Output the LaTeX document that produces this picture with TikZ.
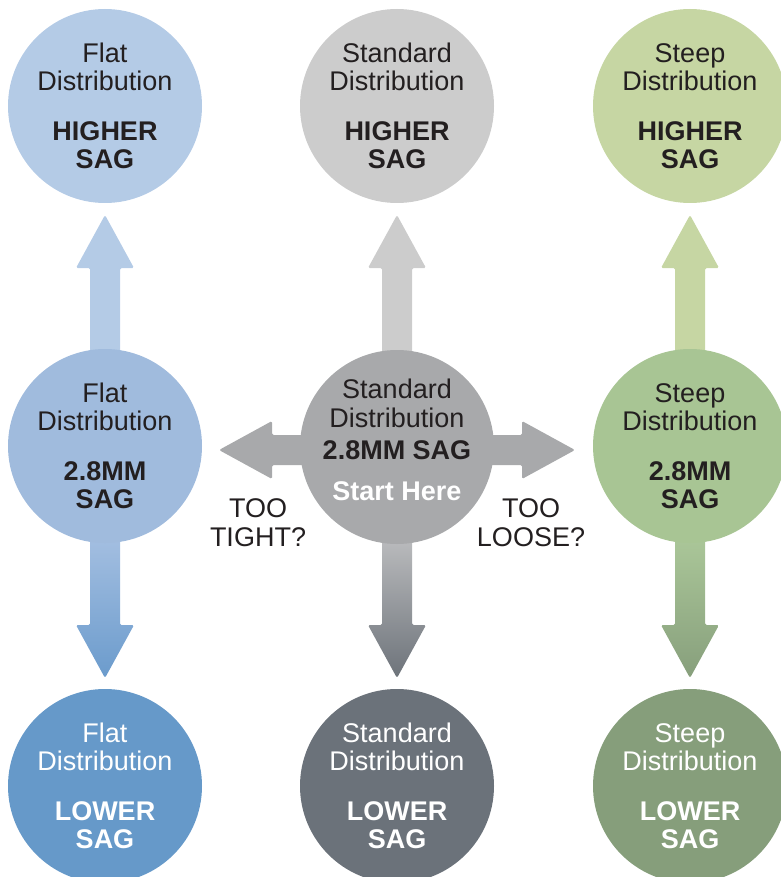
\documentclass[tikz,border=0pt]{standalone}
\usepackage{fontspec}
\setmainfont{Liberation Sans}
\usetikzlibrary{calc,backgrounds}

\definecolor{ink}{HTML}{231F20}
\definecolor{flatHi}{HTML}{B4CBE6}
\definecolor{flatMd}{HTML}{A0BBDD}
\definecolor{flatLo}{HTML}{6699C9}
\definecolor{flatGa}{HTML}{A4BFE1}
\definecolor{flatGb}{HTML}{6B9BCC}
\definecolor{stdHi}{HTML}{CCCCCC}
\definecolor{stdMd}{HTML}{A8A9AB}
\definecolor{stdLo}{HTML}{6B727A}
\definecolor{stdGa}{HTML}{BBBCBE}
\definecolor{stdGb}{HTML}{6D737A}
\definecolor{steepHi}{HTML}{C6D6A3}
\definecolor{steepMd}{HTML}{A8C594}
\definecolor{steepLo}{HTML}{869E7B}
\definecolor{steepGa}{HTML}{ABC799}
\definecolor{steepGb}{HTML}{879F7C}

% fat arrow from #2 to tip #3
\newcommand{\fatarrow}[3][]{%
  \coordinate (hb) at ($(#3)!53pt!(#2)$);
  \path[rounded corners=1.5pt,#1] ($(#2)!15pt!90:(#3)$) -- ($(hb)!15pt!90:(#3)$)
    -- ($(hb)!29pt!90:(#3)$) -- (#3) -- ($(hb)!29pt!-90:(#3)$)
    -- ($(hb)!15pt!-90:(#3)$) -- ($(#2)!15pt!-90:(#3)$) -- cycle;
}

\begin{document}
\begin{tikzpicture}[x=1pt,y=-1pt,
  ball/.style={circle,minimum size=194pt,inner sep=0pt,align=center,
    font=\fontsize{27}{28}\selectfont,text=ink},
  note/.style={align=center,font=\fontsize{27}{29}\selectfont,text=ink}]
\useasboundingbox (0,0) rectangle (780,877);

\foreach \c/\x/\name in {flat/105/Flat,std/397/Standard,steep/690/Steep}{
  \node[ball,fill=\c Hi] (\c top) at (\x,106)
    {\name\\Distribution\\[22pt]\textbf{HIGHER}\\\textbf{SAG}};
  \node[ball,fill=\c Lo,text=white] (\c bot) at (\x,786)
    {\name\\Distribution\\[22pt]\textbf{LOWER}\\\textbf{SAG}};
}
\node[ball,fill=flatMd] (flatmid) at (105,446)
  {Flat\\Distribution\\[22pt]\textbf{2.8MM}\\\textbf{SAG}};
\node[ball,fill=steepMd] (steepmid) at (690,446)
  {Steep\\Distribution\\[22pt]\textbf{2.8MM}\\\textbf{SAG}};
\node[ball,fill=stdMd,label={[note,yshift=7pt]center:{Standard\\Distribution\\[3pt]
  \textbf{2.8MM SAG}\\[12pt]\textcolor{white}{\textbf{Start Here}}}}] (stdmid) at (397,447) {};

\node[note] (tightlbl) at (258,523) {TOO\\TIGHT?};
\node[note] (looselbl) at (531,523) {TOO\\LOOSE?};

\begin{scope}[on background layer]
  \foreach \c in {flat,std,steep}{
    \coordinate (up) at ($(\c top.center)!109pt!(\c mid.center)$);
    \coordinate (dn) at ($(\c bot.center)!108pt!(\c mid.center)$);
    \coordinate (s1) at ($(\c mid.center)!90pt!(up)$);
    \coordinate (s2) at ($(\c mid.center)!90pt!(dn)$);
    \fatarrow[fill=\c Hi]{s1}{up}
    \fatarrow[top color=\c Ga,bottom color=\c Gb]{s2}{dn}
  }
  \coordinate (hub) at ($(stdmid.center)+(0,3)$);
  \coordinate (tight) at ($(stdmid.center)+(-178,3)$);
  \coordinate (loose) at ($(stdmid.center)+(178,3)$);
  \fatarrow[fill=stdMd]{hub}{tight}
  \fatarrow[fill=stdMd]{hub}{loose}
\end{scope}
\end{tikzpicture}
\end{document}
